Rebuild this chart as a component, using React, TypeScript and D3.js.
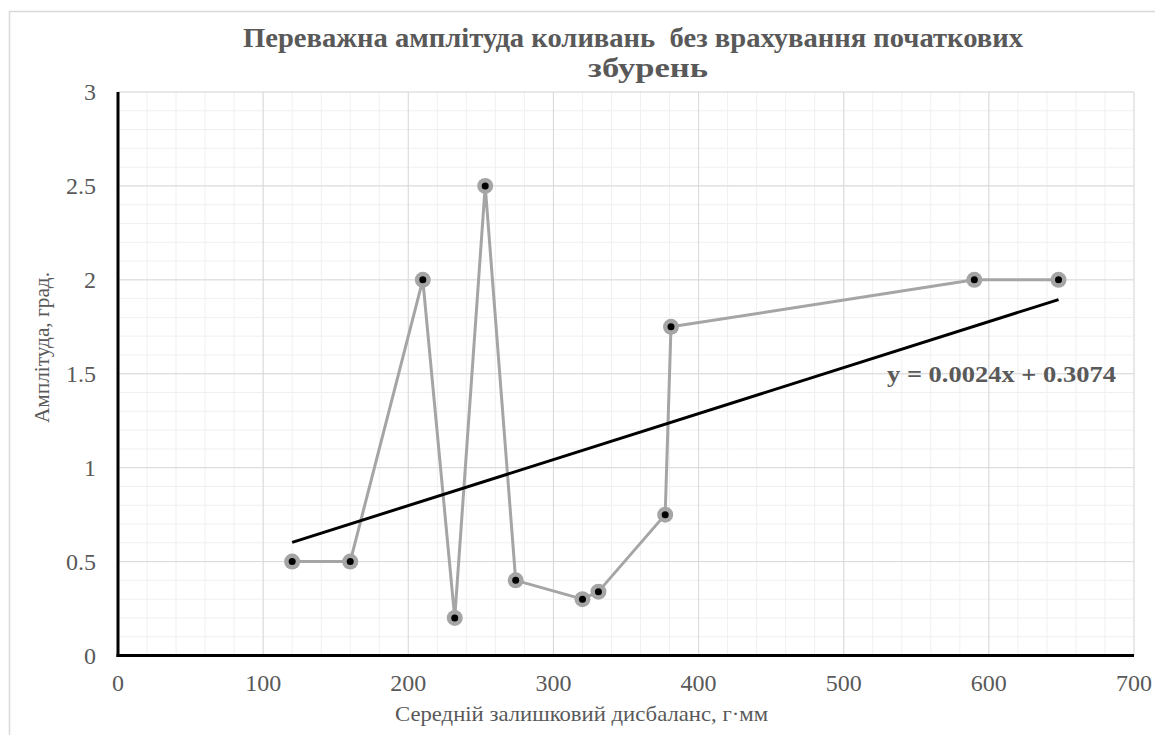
import { useEffect, useRef } from "react";
import * as d3 from "d3";

const W = 1155;
const H = 735;

const title1 = "Переважна амплітуда коливань  без врахування початкових";
const title2 = "збурень";
const xTitle = "Середній залишковий дисбаланс, г·мм";
const yTitle = "Амплітуда, град.";

const imbalance = [120, 160, 210, 232, 253, 274, 320, 331, 377, 381, 590, 648];
const amplitude = [0.5, 0.5, 2.0, 0.2, 2.5, 0.4, 0.3, 0.34, 0.75, 1.75, 2.0, 2.0];

const xTicks = [0, 100, 200, 300, 400, 500, 600, 700];
const yTicks = [0, 0.5, 1, 1.5, 2, 2.5, 3];

const SERIF = "'Liberation Serif', 'Times New Roman', serif";
const TEXT = "#595959";

export default function App() {
	const svgRef = useRef<SVGSVGElement>(null);

	useEffect(() => {
		if (!svgRef.current) return;
		const svg = d3.select(svgRef.current);
		svg.selectAll("*").remove();

		const x = d3.scaleLinear().domain([0, 700]).range([118, 1134]);
		const y = d3.scaleLinear().domain([0, 3]).range([655.5, 92]);

		// chart border
		svg.append("rect")
			.attr("x", 9.5).attr("y", 11.5)
			.attr("width", W + 20).attr("height", H + 20)
			.attr("fill", "white").attr("stroke", "#d9d9d9").attr("stroke-width", 1.5);

		const grid = svg.append("g");
		// minor grid
		d3.range(0, 701, 20).forEach(v => {
			grid.append("line")
				.attr("x1", x(v)).attr("x2", x(v)).attr("y1", y(0)).attr("y2", y(3))
				.attr("stroke", "#f0f0f0").attr("stroke-width", 1);
		});
		d3.range(0, 31, 1).forEach(i => {
			const v = i / 10;
			grid.append("line")
				.attr("x1", x(0)).attr("x2", x(700)).attr("y1", y(v)).attr("y2", y(v))
				.attr("stroke", "#f0f0f0").attr("stroke-width", 1);
		});
		// major grid
		xTicks.forEach(v => {
			grid.append("line")
				.attr("x1", x(v)).attr("x2", x(v)).attr("y1", y(0)).attr("y2", y(3))
				.attr("stroke", "#d9d9d9").attr("stroke-width", 1);
		});
		yTicks.forEach(v => {
			grid.append("line")
				.attr("x1", x(0)).attr("x2", x(700)).attr("y1", y(v)).attr("y2", y(v))
				.attr("stroke", "#d9d9d9").attr("stroke-width", 1);
		});

		// tick labels
		svg.append("g").selectAll("text").data(yTicks).enter().append("text")
			.attr("x", 96).attr("y", d => y(d) + 8)
			.attr("text-anchor", "end")
			.attr("font-family", SERIF).attr("font-size", 24).attr("fill", TEXT)
			.text(d => String(d));
		svg.append("g").selectAll("text").data(xTicks).enter().append("text")
			.attr("x", d => x(d)).attr("y", 691)
			.attr("text-anchor", "middle")
			.attr("font-family", SERIF).attr("font-size", 24).attr("fill", TEXT)
			.text(d => String(d));

		// axis lines
		svg.append("line")
			.attr("x1", x(0)).attr("x2", x(0)).attr("y1", y(3)).attr("y2", y(0) + 1.5)
			.attr("stroke", "black").attr("stroke-width", 3);
		svg.append("line")
			.attr("x1", x(0) - 1.5).attr("x2", x(700)).attr("y1", y(0)).attr("y2", y(0))
			.attr("stroke", "black").attr("stroke-width", 3);

		// data series
		const pts = imbalance.map((v, i) => [v, amplitude[i]] as [number, number]);
		const line = d3.line<[number, number]>().x(d => x(d[0])).y(d => y(d[1]));

		// linear trend (least squares)
		const mx = d3.mean(imbalance) as number;
		const my = d3.mean(amplitude) as number;
		const sxy = d3.sum(imbalance, (v, i) => (v - mx) * (amplitude[i] - my));
		const sxx = d3.sum(imbalance, v => (v - mx) * (v - mx));
		const slope = sxy / sxx;
		const icpt = my - slope * mx;
		const [xmin, xmax] = d3.extent(imbalance) as [number, number];

		svg.append("path")
			.attr("d", line(pts))
			.attr("fill", "none").attr("stroke", "#a5a5a5").attr("stroke-width", 3)
			.attr("stroke-linejoin", "round");

		svg.append("line")
			.attr("x1", x(xmin)).attr("y1", y(slope * xmin + icpt))
			.attr("x2", x(xmax)).attr("y2", y(slope * xmax + icpt))
			.attr("stroke", "black").attr("stroke-width", 3);

		const marks = svg.append("g");
		marks.selectAll("circle.o").data(pts).enter().append("circle")
			.attr("class", "o")
			.attr("cx", d => x(d[0])).attr("cy", d => y(d[1])).attr("r", 8)
			.attr("fill", "#a5a5a5");
		marks.selectAll("circle.i").data(pts).enter().append("circle")
			.attr("class", "i")
			.attr("cx", d => x(d[0])).attr("cy", d => y(d[1])).attr("r", 3.5)
			.attr("fill", "black");

		// equation label
		svg.append("text")
			.attr("x", 887).attr("y", 382)
			.attr("font-family", SERIF).attr("font-size", 22.5).attr("font-weight", "bold")
			.attr("fill", TEXT)
			.attr("textLength", 229).attr("lengthAdjust", "spacingAndGlyphs")
			.text("y = 0.0024x + 0.3074");

		// titles
		svg.append("text")
			.attr("x", 243).attr("y", 47)
			.attr("font-family", SERIF).attr("font-size", 27.5).attr("font-weight", "bold")
			.attr("fill", TEXT).style("white-space", "pre")
			.attr("textLength", 780).attr("lengthAdjust", "spacingAndGlyphs")
			.text(title1);
		svg.append("text")
			.attr("x", 588).attr("y", 77)
			.attr("font-family", SERIF).attr("font-size", 27.5).attr("font-weight", "bold")
			.attr("fill", TEXT)
			.attr("textLength", 120).attr("lengthAdjust", "spacingAndGlyphs")
			.text(title2);

		svg.append("text")
			.attr("x", 395).attr("y", 721)
			.attr("font-family", SERIF).attr("font-size", 21).attr("fill", TEXT)
			.attr("textLength", 373).attr("lengthAdjust", "spacingAndGlyphs")
			.text(xTitle);
		svg.append("text")
			.attr("transform", `translate(49,423) rotate(-90)`)
			.attr("font-family", SERIF).attr("font-size", 20).attr("fill", TEXT)
			.attr("textLength", 151).attr("lengthAdjust", "spacingAndGlyphs")
			.text(yTitle);
	}, []);

	return (
		<svg
			ref={svgRef}
			width={W}
			height={H}
			style={{ position: "fixed", left: 0, top: 0, background: "white", display: "block" }}
		/>
	);
}
